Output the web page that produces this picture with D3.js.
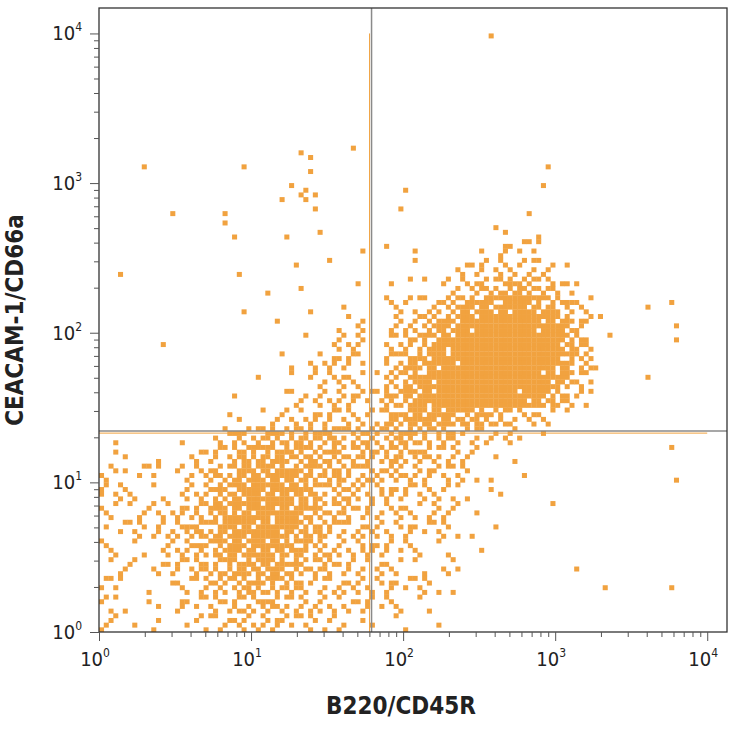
<!DOCTYPE html>
<html>
<head>
<meta charset="utf-8">
<script src="https://cdn.jsdelivr.net/npm/d3@7"></script>
<style>
  body { margin: 0; background: #fff; }
  text { font-family: "DejaVu Sans Condensed", "DejaVu Sans", sans-serif; font-stretch: condensed; }
</style>
</head>
<body>
<script>
// density: rows are y bins (top = highest), each char is a 0-9 fill level
// bin width is 1/8 decade on both axes, starting at 10^0
const binStep = 0.125;
const densityRows = [
  "0000000000 0000000000 0000000000 000", // b33
  "0000000000 0000000000 0000000000 000",
  "0000000000 0000000000 1000000000 000",
  "0000000000 0000000000 0000000000 000",
  "0000000000 0000000000 0000000000 000",
  "0000000000 0000000000 0000000000 000",
  "0000000000 0000000000 0000000000 000",
  "0000000000 0000000000 0000000000 000",
  "0000000000 1101000000 0000000000 000", // b25
  "0010000100 0100000000 0001000000 000",
  "0000000001 2100001000 0001000000 000",
  "0001001000 0100010000 0010000000 000",
  "0000001101 0100000000 1101000000 000",
  "0000000000 0001011000 1221000000 000", // b20
  "0100000100 1010001012 2332100000 000",
  "0000000010 1001011123 4554210000 000",
  "0000000100 0110022346 7886420010 100",
  "0000000001 0012023568 9998631000 100",
  "0001000000 1023034689 9999741000 100", // b15
  "0000000001 1233046789 9999741000 000",
  "0000000010 1232146899 9998630010 000",
  "0000000101 2233257899 9987420000 000",
  "0000001112 2333257776 5432100000 000",
  "1000102445 5554455443 2211000000 000", // b10
  "1101123566 5554454432 1100000000 100",
  "2121234677 6554443332 1010000000 100",
  "2311235788 7544333321 1100000000 000",
  "2122346888 7543332221 0001000000 000",
  "1223456888 6543322221 1000000000 000", // b5
  "2112346787 6433322110 1000000000 000",
  "1212345666 5433221120 0000010000 000",
  "2111234555 4333222210 0000001000 100",
  "2111223444 3322221100 0000000000 000",
  "2111122333 2221111100 0000000000 000"  // b0
];
const xDecades = [0, 1, 2, 3, 4];
const yDecades = [0, 1, 2, 3, 4];
const xGate = 62;
const yGate = 22;
const xLabel = "B220/CD45R";
const yLabel = "CEACAM-1/CD66a";
const dotColor = "#f1a23f";
// fill order of the 4x4 sub-squares inside one bin
const fillOrder = [0, 10, 5, 15, 2, 8, 13, 7, 4, 14, 1, 11, 6, 12, 3, 9];

const W = 737, H = 729;
const margin = {top: 8, right: 10, bottom: 97, left: 99};
const w = W - margin.left - margin.right, h = H - margin.top - margin.bottom;

const x = d3.scaleLog().domain([1, Math.pow(10, 4.13)]).range([0, w]);
const y = d3.scaleLog().domain([1, Math.pow(10, 4.17)]).range([h, 0]);

const svg = d3.select("body").append("svg").attr("width", W).attr("height", H);
svg.append("defs").append("clipPath").attr("id", "clip")
  .append("rect").attr("width", w).attr("height", h);
const g = svg.append("g").attr("transform", "translate(" + margin.left + "," + margin.top + ")");

// expand rows into sub-square cells
const cells = [];
const nRows = densityRows.length;
densityRows.forEach((row, i) => {
  const b = nRows - 1 - i;
  row.replace(/ /g, "").split("").forEach((ch, c) => {
    const level = +ch;
    if (!level) return;
    const n = level === 1 ? 1 : Math.round(level * 16 / 9);
    const off = (c * 7 + b * 3) % 16;
    for (let k = 0; k < n; k++) {
      const s = fillOrder[(k + off) % 16];
      const sx = s % 4, sy = Math.floor(s / 4);
      const lx0 = (c + sx / 4) * binStep, lx1 = (c + (sx + 1) / 4) * binStep;
      const ly0 = (b + sy / 4) * binStep, ly1 = (b + (sy + 1) / 4) * binStep;
      cells.push({x0: Math.pow(10, lx0), x1: Math.pow(10, lx1), y0: Math.pow(10, ly0), y1: Math.pow(10, ly1)});
    }
  });
});

g.append("g").attr("clip-path", "url(#clip)")
  .selectAll("rect").data(cells).join("rect")
  .attr("x", d => x(d.x0))
  .attr("y", d => y(d.y1))
  .attr("width", d => x(d.x1) - x(d.x0) + 0.3)
  .attr("height", d => y(d.y0) - y(d.y1) + 0.3)
  .attr("fill", dotColor);

// gates
g.append("line").attr("x1", x(xGate) - 2).attr("x2", x(xGate) - 2)
  .attr("y1", y(1e4)).attr("y2", h).attr("stroke", dotColor).attr("stroke-width", 1);
g.append("line").attr("x1", 0).attr("x2", x(1e4))
  .attr("y1", y(yGate) + 2).attr("y2", y(yGate) + 2).attr("stroke", dotColor).attr("stroke-width", 1);
g.append("line").attr("x1", x(xGate)).attr("x2", x(xGate))
  .attr("y1", 0).attr("y2", h).attr("stroke", "#8a8a8a").attr("stroke-width", 1.5);
g.append("line").attr("x1", 0).attr("x2", w)
  .attr("y1", y(yGate)).attr("y2", y(yGate)).attr("stroke", "#8a8a8a").attr("stroke-width", 1.5);

g.append("rect").attr("width", w).attr("height", h)
  .attr("fill", "none").attr("stroke", "#333").attr("stroke-width", 1.3);

// ticks
const minor = [];
for (let k = 0; k < 4; k++) for (let m = 2; m <= 9; m++) minor.push(m * Math.pow(10, k));
const majors = xDecades.map(d => Math.pow(10, d));

function styleAxis(sel) {
  sel.select(".domain").remove();
  sel.selectAll("line").attr("stroke", "#555");
}
g.append("g").attr("transform", "translate(0," + h + ")")
  .call(d3.axisBottom(x).tickValues(majors).tickSize(9).tickFormat(""))
  .call(styleAxis);
g.append("g").attr("transform", "translate(0," + h + ")")
  .call(d3.axisBottom(x).tickValues(minor).tickSize(5).tickFormat(""))
  .call(styleAxis);
g.append("g")
  .call(d3.axisLeft(y).tickValues(yDecades.map(d => Math.pow(10, d))).tickSize(9).tickFormat(""))
  .call(styleAxis);
g.append("g")
  .call(d3.axisLeft(y).tickValues(minor).tickSize(5).tickFormat(""))
  .call(styleAxis);

// tick labels with superscripts
xDecades.forEach(d => {
  const t = g.append("text").attr("x", x(Math.pow(10, d)) - 4).attr("y", h + 34)
    .attr("text-anchor", "middle").attr("font-size", 20).attr("fill", "#222");
  t.append("tspan").text("10");
  t.append("tspan").attr("dy", -9).attr("font-size", 12).text(d);
});
yDecades.forEach(d => {
  const t = g.append("text").attr("x", -17).attr("y", y(Math.pow(10, d)) + 7)
    .attr("text-anchor", "end").attr("font-size", 20).attr("fill", "#222");
  t.append("tspan").text("10");
  t.append("tspan").attr("dy", -9).attr("font-size", 12).text(d);
});

g.append("text").attr("x", w / 2 - 12).attr("y", h + 82)
  .attr("text-anchor", "middle").attr("font-size", 24).attr("font-weight", "bold")
  .attr("fill", "#222").text(xLabel);
g.append("text").attr("transform", "translate(" + (-76) + "," + (h / 2) + ") rotate(-90)")
  .attr("text-anchor", "middle").attr("font-size", 24).attr("font-weight", "bold")
  .attr("fill", "#222").text(yLabel);
</script>
</body>
</html>
